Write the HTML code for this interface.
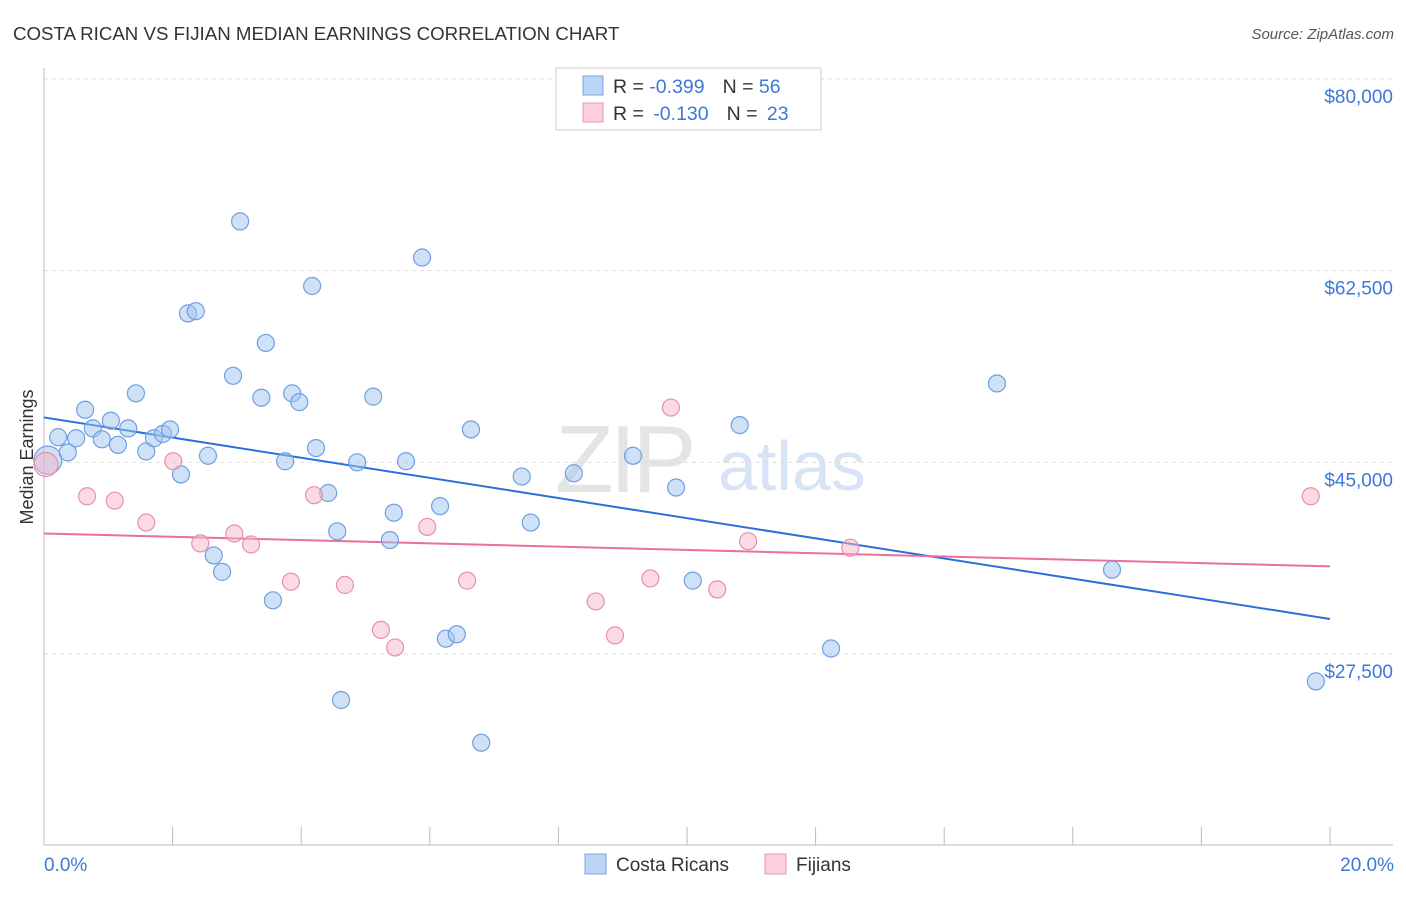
<!DOCTYPE html>
<html><head><meta charset="utf-8"><style>
body{margin:0;background:#fff;font-family:"Liberation Sans",sans-serif;}
svg text{font-family:"Liberation Sans",sans-serif;}
</style></head><body>
<svg id="chart" width="1406" height="892">
<text x="13" y="40" font-size="18.7" fill="#333">COSTA RICAN VS FIJIAN MEDIAN EARNINGS CORRELATION CHART</text>
<text x="1394" y="39" font-size="15" fill="#555" font-style="italic" text-anchor="end">Source: ZipAtlas.com</text>
<text x="33" y="457" font-size="18" fill="#333" transform="rotate(-90 33 457)" text-anchor="middle">Median Earnings</text>
<g>
<text x="555" y="492" font-size="96" fill="#e4e4e4" font-family="Liberation Serif" letter-spacing="-4">ZIP</text>
<text x="718" y="490" font-size="70" fill="#d7e4f5">atlas</text>
</g>
<g id="grid"></g><g id="lines"></g><g id="pts"></g>
<g>
<rect x="556" y="68" width="265" height="62" fill="#fff" stroke="#ccc"/>
<rect x="583" y="76" width="20" height="19" fill="#bcd4f5" stroke="#7aa6e0"/>
<rect x="583" y="103" width="20" height="19" fill="#fbd0dc" stroke="#ea9ab2"/>
<text x="613" y="93" font-size="19.5" fill="#333">R = <tspan fill="#3c78d8">-0.399</tspan><tspan dx="18">N = </tspan><tspan fill="#3c78d8">56</tspan></text>
<text x="613" y="120" font-size="19.5" fill="#333">R = <tspan dx="4" fill="#3c78d8">-0.130</tspan><tspan dx="18">N = </tspan><tspan dx="4" fill="#3c78d8">23</tspan></text>
</g>
<g>
<rect x="585" y="854" width="21" height="20" fill="#bcd4f5" stroke="#7aa6e0"/>
<text x="616" y="871" font-size="19" fill="#333">Costa Ricans</text>
<rect x="765" y="854" width="21" height="20" fill="#fbd0dc" stroke="#ea9ab2"/>
<text x="796" y="871" font-size="19" fill="#333">Fijians</text>
</g>
</svg>
<script>
const yTicks=[27500,45000,62500,80000];
const yTickLabels=["$27,500","$45,000","$62,500","$80,000"];
const xTicks=[0,2,4,6,8,10,12,14,16,18,20];
const blueX=[0.06,0.22,0.37,0.50,0.64,0.76,0.90,1.04,1.15,1.31,1.43,1.59,1.71,1.85,1.96,2.13,2.24,2.36,2.55,2.64,2.77,2.94,3.05,3.38,3.45,3.56,3.75,3.86,3.97,4.17,4.23,4.42,4.56,4.62,4.87,5.12,5.38,5.44,5.63,5.88,6.16,6.25,6.42,6.64,6.80,7.43,7.57,8.24,9.16,9.83,10.09,10.82,12.24,14.82,16.61,19.78];
const blueY=[45200,47300,45900,47200,49800,48100,47100,48800,46600,48100,51300,46000,47200,47600,48000,43900,58600,58800,45600,36500,35000,52900,67000,50900,55900,32400,45100,51300,50500,61100,46300,42200,38700,23300,45000,51000,37900,40400,45100,63700,41000,28900,29300,48000,19400,43700,39500,44000,45600,42700,34200,48400,28000,52200,35200,25000];
const pinkX=[0.03,0.67,1.10,1.59,2.01,2.43,2.96,3.22,3.84,4.20,4.68,5.24,5.46,5.96,6.58,8.58,8.88,9.43,9.75,10.47,10.95,12.54,19.70];
const pinkY=[44800,41900,41500,39500,45100,37600,38500,37500,34100,42000,33800,29700,28100,39100,34200,32300,29200,34400,50000,33400,37800,37200,41900];
const blueFit=[49100,30700];
const pinkFit=[38500,35500];
const NS="http://www.w3.org/2000/svg";
const X0=44,X1=1330,Y0=79,Y1=654;
const xs=v=>X0+(X1-X0)*v/20;
const ys=v=>Y0+(80000-v)*(Y1-Y0)/52500;
function mk(t,a,p){const e=document.createElementNS(NS,t);for(const k in a)e.setAttribute(k,a[k]);p.appendChild(e);return e;}
const grid=document.getElementById('grid');
yTicks.forEach((t,i)=>{
 const l=mk('line',{x1:44,x2:1393,y1:ys(t),y2:ys(t),stroke:'#ddd','stroke-dasharray':'4,4'},grid);
 
 
 const tx=mk('text',{x:1393,y:ys(t)+24,'font-size':19,fill:'#3c78d8','text-anchor':'end'},grid);
 tx.textContent=yTickLabels[i];
 
 
});
mk('line',{x1:44,x2:44,y1:68,y2:845,stroke:'#bbb'},grid);
mk('line',{x1:44,x2:1393,y1:845,y2:845,stroke:'#bbb'},grid);
xTicks.forEach(t=>{const l=mk('line',{x1:xs(t),x2:xs(t),y1:827,y2:845,stroke:'#bbb'},grid);
 
 });
[[0,"0.0%","start",44],[20,"20.0%","end",1394]].forEach(a=>{const t=mk('text',{x:a[3],y:871,'font-size':19,fill:'#3c78d8','text-anchor':a[2]},grid);t.textContent=a[1];
 
 });
const lines=document.getElementById('lines'),pts=document.getElementById('pts');
function dots(X,Y,fill,stroke,name){X.forEach((x,i)=>{const c=mk('circle',{cx:xs(x),cy:ys(Y[i]),r:i==0?(name=='costa-rican-point'?14:12):8.5,fill:fill,stroke:stroke,'stroke-width':1.2},pts);
 
 });}
dots(blueX,blueY,'rgba(160,196,240,0.5)','#6f9fe0','costa-rican-point');
dots(pinkX,pinkY,'rgba(246,182,202,0.5)','#e890aa','fijian-point');
const bl=mk('line',{x1:xs(0),x2:xs(20),y1:ys(blueFit[0]),y2:ys(blueFit[1]),stroke:'#2a6fdb','stroke-width':2},lines);


const pl=mk('line',{x1:xs(0),x2:xs(20),y1:ys(pinkFit[0]),y2:ys(pinkFit[1]),stroke:'#e8709a','stroke-width':2},lines);


</script>
</body></html>
